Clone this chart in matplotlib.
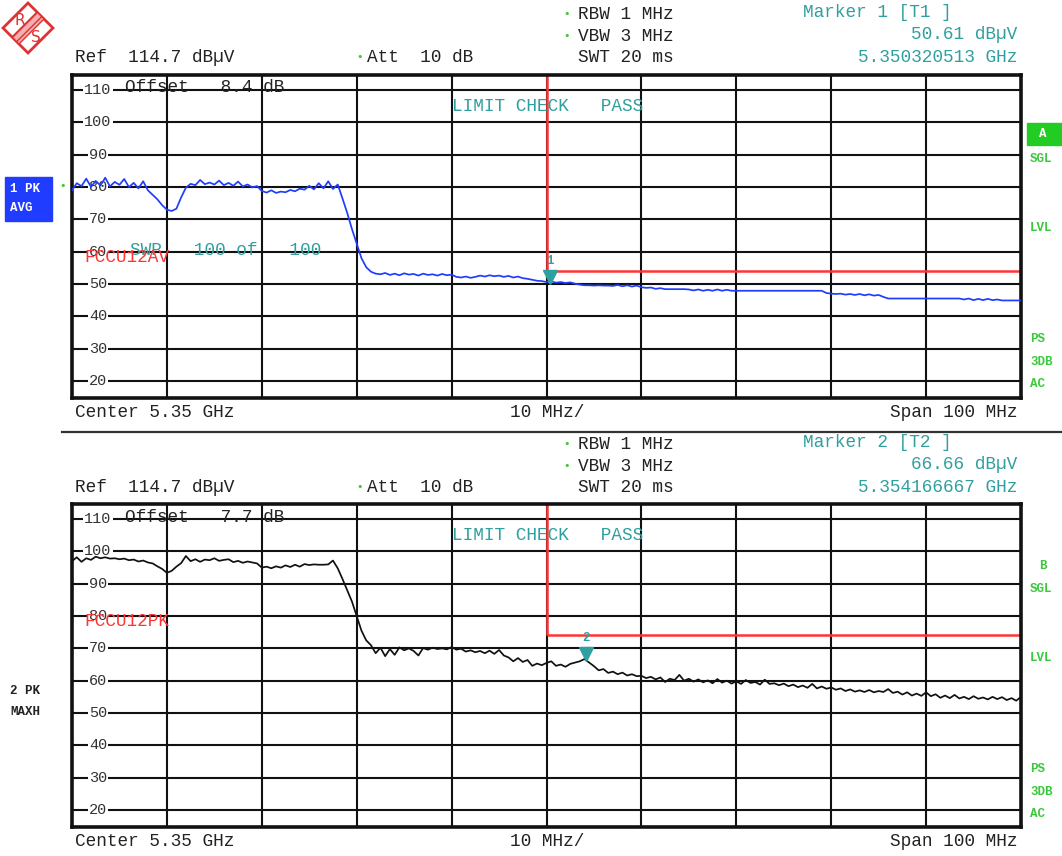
import numpy as np
import matplotlib
matplotlib.use("Agg")
import matplotlib.pyplot as plt
from matplotlib import patches
from matplotlib.transforms import offset_copy

W, H = 1062, 856

# sweep points, MHz offset from center 5.35 GHz (span 100 MHz)
freq_mhz = np.linspace(-50, 50, 201)

# trace 1: RMS/average detector (dBuV)
avg_trace = [
    79.0, 81.2, 80.3, 82.6, 80.1, 81.9, 80.5, 82.9, 80.2, 81.6, 80.7, 82.5, 80.0, 81.3, 79.6, 81.8, 79.0, 77.6, 76.2, 74.4,
    73.0, 72.6, 73.3, 76.8, 79.8, 81.0, 80.6, 82.2, 80.9, 81.4, 80.8, 82.0, 80.6, 81.3, 80.4, 81.7, 80.2, 80.8, 79.9, 80.3,
    78.8, 78.3, 79.0, 78.2, 78.6, 78.4, 79.1, 78.7, 79.5, 79.2, 80.4, 79.3, 81.2, 79.6, 81.8, 79.4, 80.8, 76.5, 72.0, 67.0,
    62.5, 58.0, 55.2, 53.8, 53.2, 53.0, 53.4, 52.8, 53.2, 52.7, 53.3, 52.9, 53.1, 52.6, 53.2, 52.8, 53.0, 52.6, 53.1, 52.7,
    52.9, 52.2, 52.0, 52.3, 51.9, 52.2, 52.6, 52.3, 52.7, 52.4, 52.6, 52.2, 52.5, 52.0, 52.3, 51.8, 51.6, 51.3, 51.0, 50.9,
    50.6, 50.8, 50.4, 50.6, 50.3, 50.5, 50.1, 49.8, 49.6, 49.6, 49.5, 49.6, 49.5, 49.5, 49.4, 49.7, 49.3, 49.6, 49.2, 49.5,
    49.0, 48.8, 48.9, 48.5, 48.7, 48.4, 48.4, 48.4, 48.4, 48.4, 48.3, 48.0, 48.3, 47.9, 48.2, 47.9, 48.3, 47.9, 48.2, 47.9,
    47.9, 47.9, 47.9, 47.9, 47.9, 47.9, 47.9, 47.9, 47.9, 47.9, 47.9, 47.9, 47.9, 47.9, 47.9, 47.9, 47.9, 47.9, 47.9, 47.2,
    47.0, 46.9, 47.0, 46.7, 46.9, 46.6, 46.9, 46.5, 46.8, 46.4, 46.6, 46.0, 45.5, 45.5, 45.5, 45.5, 45.5, 45.5, 45.5, 45.5,
    45.5, 45.5, 45.5, 45.5, 45.5, 45.5, 45.5, 45.5, 45.2, 45.5, 45.0, 45.4, 45.0, 45.4, 45.0, 45.2, 44.9, 44.9, 44.9, 44.9, 44.9,
]

# trace 2: peak detector, max hold (dBuV)
pk_trace = [
    97.0, 98.2, 96.8, 97.9, 97.4, 98.4, 97.9, 98.2, 97.8, 97.9, 97.6, 97.8, 97.3, 97.5, 96.9, 97.2, 96.6, 96.3, 95.4, 94.6,
    93.4, 94.0, 95.3, 96.4, 98.6, 97.0, 97.6, 96.8, 97.5, 97.3, 97.9, 97.1, 97.4, 97.6, 96.7, 97.1, 96.5, 96.9, 96.6, 96.3,
    95.0, 95.3, 94.8, 95.4, 95.0, 95.7, 95.2, 95.9, 95.3, 96.1, 95.8, 96.0, 95.9, 95.9, 96.0, 97.2, 94.8, 91.5, 88.0, 84.5,
    80.0, 75.5, 72.5, 71.0, 68.5, 70.2, 67.6, 69.8, 68.0, 70.3, 69.4, 70.0, 69.2, 67.8, 70.1, 69.6, 70.2, 69.8, 70.0, 69.7,
    70.4, 69.6, 69.9, 69.0, 69.4, 68.8, 69.2, 68.5, 69.3, 68.3, 69.5, 67.8, 67.2, 66.0, 67.0, 65.8, 66.4, 64.6, 65.3, 64.8,
    65.5, 66.0, 64.6, 65.0, 64.3, 65.2, 65.6, 66.0, 66.7, 65.6, 64.5, 63.2, 63.6, 62.4, 62.8, 62.0, 62.5, 61.6, 62.0, 61.4,
    61.5, 60.8, 61.2, 60.4, 61.0, 59.6, 60.6, 60.2, 61.8, 60.0, 60.6, 59.7, 60.4, 59.5, 60.1, 59.2, 60.5, 59.4, 60.0, 59.1,
    59.8, 59.0, 60.2, 59.3, 59.6, 58.8, 60.3, 59.0, 59.2, 58.6, 59.1, 58.3, 58.8, 58.0, 58.5, 57.8, 59.0, 57.6, 58.2, 57.5,
    57.9, 57.2, 57.6, 56.8, 57.3, 56.6, 57.0, 56.5, 57.1, 56.4, 56.8, 56.5, 57.4, 56.2, 56.6, 55.7, 56.4, 55.4, 56.0, 55.3,
    56.4, 55.2, 55.8, 54.7, 55.4, 54.6, 55.6, 54.5, 55.0, 54.3, 55.2, 54.4, 54.8, 54.2, 55.0, 54.3, 54.9, 54.0, 54.6, 53.8, 55.0,
]

y_ticks = [110, 100, 90, 80, 70, 60, 50, 40, 30, 20]
ref_level = 114.7
limit_start = 0.0          # MHz offset (5.35 GHz band edge)
limit_av = 54.0
limit_pk = 74.0
marker1 = (0.32, 50.61)    # 5.350320513 GHz
marker2 = (4.17, 66.66)    # 5.354166667 GHz

BLUE = "#1f3cff"
RED = "#ff3535"
TEAL = "#2f9f9f"
GREEN = "#3cc83c"
DARK = "#222222"
MONO = ["Liberation Mono", "DejaVu Sans Mono"]

fig = plt.figure(figsize=(W / 100, H / 100), dpi=100)
fig.patch.set_facecolor("white")


def make_panel(top_px, trace, color, limit, marker, mlabel):
    ax = fig.add_axes([72 / W, 1 - (top_px + 323) / H, 949 / W, 323 / H])
    ax.set_xlim(-50, 50)
    ax.set_ylim(ref_level - 100, ref_level)
    ax.set_xticks(np.arange(-40, 50, 10))
    ax.set_yticks(y_ticks)
    ax.tick_params(length=0, labelbottom=False, labelleft=False)
    ax.grid(True, color="#111111", lw=1.5)
    ax.set_axisbelow(True)
    for s in ax.spines.values():
        s.set_linewidth(2.6)
        s.set_color("#111111")
    for t in y_ticks:
        ax.text(0.0275, t, str(t), transform=ax.get_yaxis_transform(),
                ha="center", va="center", family=MONO, fontsize=11, color="#333333",
                bbox=dict(fc="white", ec="none", pad=0.8), zorder=1.5)
    ax.plot(freq_mhz, trace, color=color, lw=1.25, zorder=3)
    # limit line
    ax.vlines(limit_start, limit, ref_level, color=RED, lw=1.8, zorder=2.5)
    ax.hlines(limit, limit_start, 50, color=RED, lw=1.8, zorder=2.5)
    # marker
    mf, mv = marker
    ax.plot(mf, mv, marker="v", ms=10, color=TEAL, zorder=4,
            transform=offset_copy(ax.transData, fig, y=5, units="dots"))
    ax.text(mf, mv, mlabel, color=TEAL, fontsize=9, family=MONO, fontweight="bold",
            ha="center", va="center", zorder=4,
            transform=offset_copy(ax.transData, fig, y=21, units="dots"))
    return ax


ax1 = make_panel(75, avg_trace, BLUE, limit_av, marker1, "1")
ax2 = make_panel(504, pk_trace, "#111111", limit_pk, marker2, "2")

# overlay in pixel coordinates for the instrument annotations
ov = fig.add_axes([0, 0, 1, 1])
ov.set_xlim(0, W)
ov.set_ylim(H, 0)
ov.axis("off")

txt = dict(family=MONO, fontsize=12.8, va="center")
small = dict(family=MONO, fontsize=9, fontweight="bold", va="center")
dot = dict(family="DejaVu Sans", fontsize=8, ha="center", va="center", color=GREEN)


def header(dy, n, mval, mfreq, offset_db, limit_name, show_swp):
    ov.text(75, 57 + dy, "Ref  114.7 dBµV", color=DARK, **txt)
    ov.text(360, 57 + dy, "•", **dot)
    ov.text(367, 57 + dy, "Att  10 dB", color=DARK, **txt)
    ov.text(567, 14 + dy, "•", **dot)
    ov.text(578, 14 + dy, "RBW 1 MHz", color=DARK, **txt)
    ov.text(567, 36 + dy, "•", **dot)
    ov.text(578, 36 + dy, "VBW 3 MHz", color=DARK, **txt)
    ov.text(578, 57 + dy, "SWT 20 ms", color=DARK, **txt)
    ov.text(803, 12 + dy, f"Marker {n} [T{n} ]", color=TEAL, **txt)
    ov.text(1017, 34 + dy, f"{mval:.2f} dBµV", color=TEAL, ha="right", **txt)
    ov.text(1017, 57 + dy, f"{mfreq} GHz", color=TEAL, ha="right", **txt)
    ov.text(125, 87 + dy, f"Offset   {offset_db} dB", color=DARK, **txt)
    ov.text(452, 106 + dy, "LIMIT CHECK   PASS", color=TEAL, **txt)
    if show_swp:
        ov.text(130, 250 + dy, "SWP   100 of   100", color=TEAL, **txt)
    ov.text(84, 258 + dy if show_swp else 622, limit_name, color=RED, **txt)
    ov.text(75, 412 + dy, "Center 5.35 GHz", color=DARK, **txt)
    ov.text(547, 412 + dy, "10 MHz/", color=DARK, ha="center", **txt)
    ov.text(1017, 412 + dy, "Span 100 MHz", color=DARK, ha="right", **txt)
    for y, s in [(339, "PS"), (362, "3DB"), (384, "AC"), (228, "LVL"), (159, "SGL")]:
        ov.text(1030, y + dy, s, color=GREEN, **small)


header(0, 1, 50.61, "5.350320513", "8.4", "FCCU12AV", True)
header(430, 2, 66.66, "5.354166667", "7.7", "FCCU12PK", False)

# trace labels on the left
ov.add_patch(patches.Rectangle((5, 177), 47, 44, color=BLUE))
ov.text(10, 189, "1 PK", color="white", **small)
ov.text(10, 208, "AVG", color="white", **small)
ov.text(63, 186, "•", **dot)
ov.text(10, 691, "2 PK", color=DARK, **small)
ov.text(10, 712, "MAXH", color=DARK, **small)

# trace letters on the right
ov.add_patch(patches.Rectangle((1027, 123), 35, 22, color="#22cc22"))
ov.text(1043, 134, "A", color="white", ha="center", **small)
ov.text(1043, 566, "B", color=GREEN, ha="center", **small)

# separator between the two screens
ov.plot([62, 1062], [432, 432], color="#333333", lw=1.6)

# R&S logo
ov.add_patch(patches.Polygon([(28, 3), (53, 28), (28, 53), (3, 28)], closed=True,
                             fill=False, ec="#dd3333", lw=2))
ov.add_patch(patches.Polygon([(37, 12), (44, 19), (19, 44), (12, 37)], closed=True,
                             fc="#f4b0b0", ec="#dd3333", lw=1, hatch="////"))
ov.text(20, 20, "R", color="#dd3333", fontsize=11, ha="center", va="center", family="DejaVu Sans")
ov.text(36, 37, "S", color="#dd3333", fontsize=11, ha="center", va="center", family="DejaVu Sans")

fig.savefig("out.png", dpi=100)
